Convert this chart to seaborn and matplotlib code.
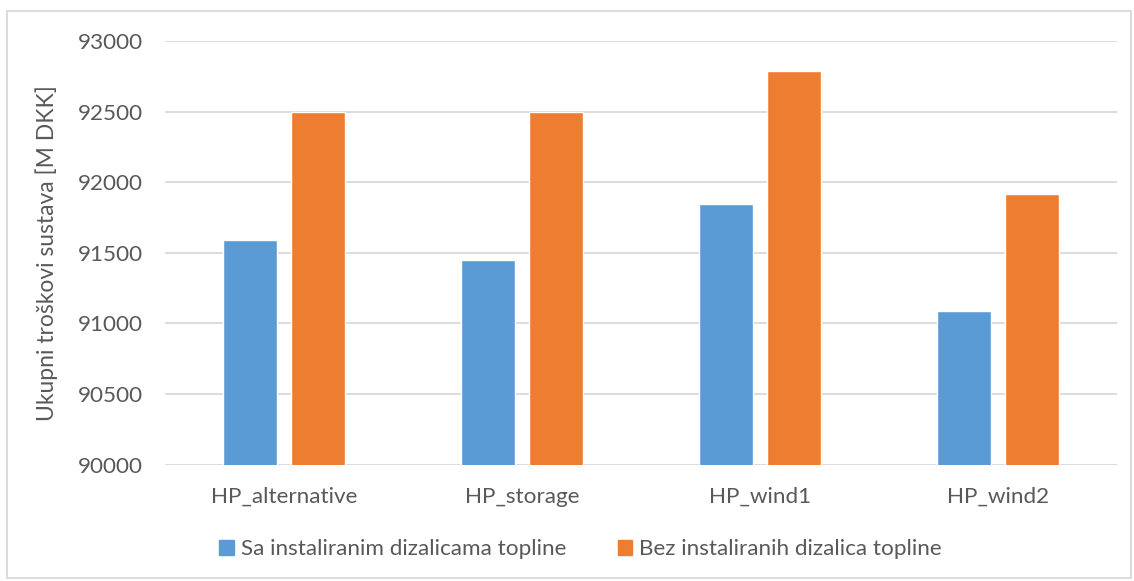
import matplotlib
matplotlib.use("Agg")
import matplotlib.pyplot as plt
import matplotlib.patches as mpatches
import pandas as pd
import seaborn as sns

# podaci očitani s grafa
scenarios = ["HP_alternative", "HP_storage", "HP_wind1", "HP_wind2"]
series_names = ["Sa instaliranim dizalicama topline", "Bez instaliranih dizalica topline"]
with_hp = [91588, 91447, 91843, 91090]
without_hp = [92495, 92495, 92790, 91918]
y_ticks = [90000, 90500, 91000, 91500, 92000, 92500, 93000]

BLUE = "#5B9BD5"
ORANGE = "#ED7D31"
GRID = "#D9D9D9"
TEXT = "#595959"

df = pd.DataFrame({
    "scenarij": scenarios * 2,
    "trosak": with_hp + without_hp,
    "serija": [series_names[0]] * len(scenarios) + [series_names[1]] * len(scenarios),
})

sns.set_style("white")
plt.rcParams["font.family"] = ["Lato", "DejaVu Sans"]

fig = plt.figure(figsize=(11.34, 5.81), dpi=100)
ax = fig.add_axes([165 / 1134, 1 - 464.7 / 581, (1117 - 165) / 1134, (464.7 - 41) / 581])

sns.barplot(data=df, x="scenarij", y="trosak", hue="serija", palette=[BLUE, ORANGE],
            saturation=1, width=0.571, gap=0.206, ax=ax, legend=False, zorder=3)

ax.set_ylim(y_ticks[0], y_ticks[-1])
ax.set_yticks(y_ticks)
ax.set_yticklabels([str(t) for t in y_ticks])
ax.yaxis.grid(True, color=GRID, linewidth=1.3, zorder=0)
ax.set_axisbelow(True)
for s in ax.spines.values():
    s.set_visible(False)
ax.tick_params(axis="both", length=0, labelsize=16.2, labelcolor=TEXT)
ax.tick_params(axis="y", pad=16)
ax.tick_params(axis="x", pad=16)
ax.set_xlabel("")
ax.set_ylabel("Ukupni troškovi sustava [M DKK]", fontsize=16.5, color=TEXT, labelpad=14)

handles = [mpatches.Patch(color=BLUE, label=series_names[0]),
           mpatches.Patch(color=ORANGE, label=series_names[1])]
leg = fig.legend(handles=handles, loc="center", bbox_to_anchor=(580.5 / 1134, 1 - 549 / 581),
                 ncol=2, frameon=False, fontsize=16.2, handlelength=0.65, handleheight=0.65,
                 handletextpad=0.3, columnspacing=2.3)
for t in leg.get_texts():
    t.set_color(TEXT)

# okvir oko grafikona
fig.patches.append(mpatches.Rectangle((7 / 1134, 3 / 581), (1131 - 7) / 1134, (570 - 3) / 581,
                                      transform=fig.transFigure, fill=False,
                                      edgecolor=GRID, linewidth=1.3))

fig.savefig("out.png", dpi=100)
plt.close(fig)
